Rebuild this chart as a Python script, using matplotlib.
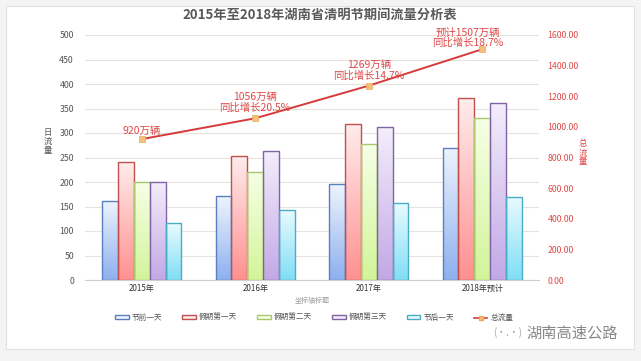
import matplotlib
matplotlib.use("Agg")
import matplotlib.pyplot as plt
import numpy as np
from matplotlib.patches import Rectangle, Patch
from matplotlib.lines import Line2D
from matplotlib.colors import LinearSegmentedColormap

plt.rcParams['font.family'] = ['Noto Sans CJK SC', 'DejaVu Sans']

categories = ["2015年", "2016年", "2017年", "2018年预计"]
series_names = ["节前一天", "假期第一天", "假期第二天", "假期第三天", "节后一天"]
pre_day = [162, 171, 195, 270]
day1 = [241, 254, 318, 371]
day2 = [199, 221, 277, 330]
day3 = [201, 264, 313, 362]
post_day = [116, 143, 158, 170]
total = [920, 1056, 1269, 1507]
total_name = "总流量"
annotations = ["920万辆", "1056万辆\n同比增长20.5%", "1269万辆\n同比增长14.7%", "预计1507万辆\n同比增长18.7%"]
left_ticks = [0, 50, 100, 150, 200, 250, 300, 350, 400, 450, 500]
right_ticks = [0, 200, 400, 600, 800, 1000, 1200, 1400, 1600]

series = [pre_day, day1, day2, day3, post_day]
edge_colors = ["#5b7fc0", "#c0504d", "#a8c86a", "#8064a2", "#4bacc6"]
bottom_colors = ["#8db0ee", "#ff9090", "#d2f59a", "#c2a8e6", "#80def5"]
top_colors = ["#eef4fd", "#ffecec", "#f6ffe6", "#f4eefc", "#eafbff"]

fig = plt.figure(figsize=(6.41, 3.61), dpi=100)
fig.patch.set_facecolor("#f4f4f4")
fig.add_artist(Rectangle((6/641, 12/361), 628/641, 343/361, transform=fig.transFigure,
                         facecolor="white", edgecolor="#e2e2e2", lw=0.8, zorder=0))

ax = fig.add_axes([85/641, 1-280/361, 454/641, 245/361])
ax.set_facecolor("none")
x = np.arange(len(categories))
bw = 0.14
offsets = (np.arange(5) - 2) * bw

grad = np.linspace(0, 1, 256).reshape(-1, 1)
for i, vals in enumerate(series):
    cmap = LinearSegmentedColormap.from_list("g%d" % i, [bottom_colors[i], top_colors[i]])
    for j, v in enumerate(vals):
        x0 = x[j] + offsets[i] - bw / 2
        rect = Rectangle((x0, 0), bw, v, facecolor="none", edgecolor=edge_colors[i], lw=1.0, zorder=3)
        ax.add_patch(rect)
        im = ax.imshow(grad, cmap=cmap, aspect="auto", extent=(x0, x0 + bw, 0, v),
                       origin="lower", zorder=2)
        im.set_clip_path(rect)
ax.set_xlim(-0.5, len(categories) - 0.5)
ax.set_ylim(0, 500)

ax.set_yticks(left_ticks)
ax.yaxis.grid(True, color="#e8e4dc", lw=0.8)
ax.set_axisbelow(True)
for s in ["top", "right", "left"]:
    ax.spines[s].set_visible(False)
ax.spines["bottom"].set_color("#d0d0d0")
ax.tick_params(axis="y", length=0, labelsize=6.3, labelcolor="#555555", pad=8)
ax.set_xticks(x)
ax.set_xticklabels(categories, fontsize=5.8, color="#333333")
ax.tick_params(axis="x", length=0, pad=3)
ax.set_xlabel("坐标轴标题", fontsize=5, color="#999999", labelpad=3)

ax2 = ax.twinx()
ax2.set_ylim(0, 1600)
ax2.set_yticks(right_ticks)
ax2.set_yticklabels(["%.2f" % t for t in right_ticks])
ax2.tick_params(axis="y", length=0, labelsize=6.3, labelcolor="#e04848", pad=6)
for s in ["top", "right", "left", "bottom"]:
    ax2.spines[s].set_visible(False)
ax2.plot(x, total, color="#d63a3a", lw=1.4, marker="s", markersize=4,
         markerfacecolor="#f7c07a", markeredgecolor="#e8a860", markeredgewidth=0.5, zorder=5)

ann_dx = [0, 0, 0, -0.13]
ann_off = [24, 34, 34, 6]
for j, t in enumerate(annotations):
    ax2.text(x[j] + ann_dx[j], total[j] + ann_off[j], t, ha="center", va="bottom", fontsize=7.5,
             color="#e04848", linespacing=1.05, zorder=6)

fig.text(48/641, 1-141/361, "日\n流\n量", ha="center", va="center", fontsize=6,
         color="#555555", linespacing=1.0)
fig.text(583/641, 1-153/361, "总\n流\n量", ha="center", va="center", fontsize=6,
         color="#e04848", linespacing=1.0)

fig.text(320/641, 1-15/361, "2015年至2018年湖南省清明节期间流量分析表", ha="center", va="center",
         fontsize=9.5, fontweight="bold", color="#595959")

handles = [Patch(facecolor=top_colors[i], edgecolor=edge_colors[i], lw=1.0) for i in range(5)]
handles.append(Line2D([0], [0], color="#d63a3a", lw=1.2, marker="s", markersize=3,
                      markerfacecolor="#f7c07a", markeredgecolor="#e8a860"))
leg = fig.legend(handles, series_names + [total_name], loc="center left", ncol=6,
                 bbox_to_anchor=(115/641, 1-318/361), frameon=False, fontsize=5.5,
                 handlelength=1.8, handleheight=0.5, columnspacing=2.6, handletextpad=0.4,
                 borderaxespad=0, borderpad=0)
for t in leg.get_texts():
    t.set_color("#555555")

fig.text(618/641, 1-333/361, "湖南高速公路", ha="right", va="center", fontsize=11, color="#888888")
fig.text(522/641, 1-333/361, "(·.·)", ha="right", va="center", fontsize=7, color="#aaaaaa")

fig.savefig("out.png", dpi=100, facecolor=fig.get_facecolor())
